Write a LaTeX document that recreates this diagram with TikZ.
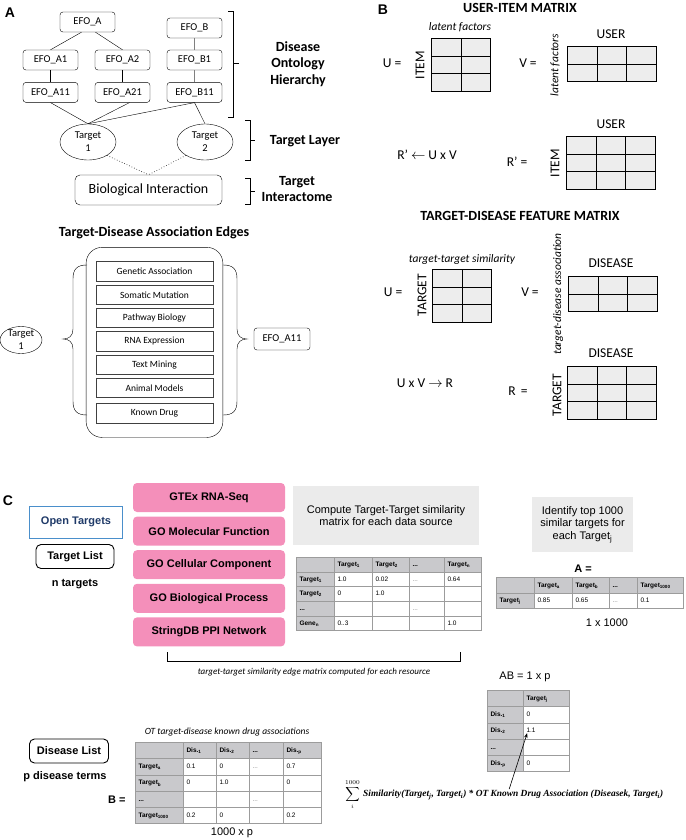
\documentclass[tikz,border=0pt]{standalone}
\usepackage{fontspec}
\setmainfont{Carlito}
\newfontfamily\arial{Liberation Sans}
\newfontfamily\timesf{Liberation Serif}
\usepackage{tikz}
\usetikzlibrary{positioning,shapes.geometric,matrix,fit,arrows.meta}

\newcommand{\fsz}[2]{\fontsize{#1}{#2}\selectfont}
\newcommand{\tsub}[1]{\textsubscript{#1}}

\definecolor{cellgray}{HTML}{EDEDED}
\definecolor{hdrgray}{HTML}{C9C9CC}
\definecolor{tblline}{HTML}{9C9C9C}
\definecolor{srcpink}{HTML}{F48FBA}
\definecolor{notegray}{HTML}{EBEBEB}
\definecolor{otblue}{HTML}{4A8FCB}
\definecolor{otnavy}{HTML}{1F3A68}

\tikzset{
  efo/.style={draw, rounded corners=3pt, minimum width=55pt, minimum height=20pt, inner sep=1pt, font=\fsz{10.5}{12}},
  target/.style={draw, ellipse, minimum width=56pt, minimum height=36pt, inner sep=0pt, align=center, font=\fsz{10.5}{13}},
  tag/.style={font=\bfseries\fsz{14}{16.5}, align=center},
  edgebox/.style={draw=black!75, line width=0.8pt, minimum width=117pt, minimum height=19.5pt, inner sep=0pt, font=\fsz{9.5}{10}},
  bmat/.style={matrix of nodes, nodes in empty cells, inner sep=0pt, column sep=-0.8pt, row sep=-0.8pt,
    nodes={draw, fill=cellgray, line width=0.8pt, minimum width=29.5pt, minimum height=17.5pt, inner sep=0pt}},
  blab/.style={font=\fsz{13.5}{15}},
  bnote/.style={font=\itshape\fsz{11.5}{13}},
  panel/.style={font=\arial\bfseries\fsz{14}{16}},
  src/.style={fill=srcpink, rounded corners=4pt, minimum width=152pt, minimum height=29pt, inner sep=0pt, font=\arial\bfseries\fsz{11}{13}},
  note/.style={fill=notegray, align=center, inner sep=0pt, font=\arial\fsz{11}{12.5}},
  listbox/.style={draw, line width=0.9pt, rounded corners=5pt, minimum height=24pt, inner sep=2pt, font=\arial\bfseries\fsz{11}{13}},
  ctext/.style={font=\arial\bfseries\fsz{11}{13}},
  cplain/.style={font=\arial\fsz{11}{13}},
  cnote/.style={font=\itshape\fsz{9}{10}},
  tcell/.style={draw=tblline, line width=0.7pt, fill=white, inner xsep=3pt, inner ysep=0pt, align=left,
    text height=5pt, text depth=1.5pt, font=\arial\fsz{6.5}{7}},
  hcell/.style={fill=hdrgray, font=\arial\bfseries\fsz{6.5}{7}},
  tbl/.style={matrix of nodes, nodes in empty cells, inner sep=0pt, column sep=-0.7pt, row sep=-0.7pt,
    nodes={tcell}, row 1/.style={nodes={hcell}}, column 1/.style={nodes={hcell}}},
}

\begin{document}
\begin{tikzpicture}[x=1pt,y=-1pt]
  \useasboundingbox (0,0) rectangle (685,840);

  % panel A: ontology, targets, interactome
  \node[panel] (labA) at (10,13) {A};
  \node[efo] (efoA) at (87.5,22) {EFO\_A};
  \node[efo] (efoB) at (194.5,28) {EFO\_B};
  \node[efo] (efoA1) at (50.5,60) {EFO\_A1};
  \node[efo] (efoA2) at (122.5,60) {EFO\_A2};
  \node[efo] (efoB1) at (194.5,60) {EFO\_B1};
  \node[efo, below=12pt of efoA1] (efoA11) {EFO\_A11};
  \node[efo, below=12pt of efoA2] (efoA21) {EFO\_A21};
  \node[efo, below=12pt of efoB1] (efoB11) {EFO\_B11};
  \node[target] (t1) at (88,142) {Target\\1};
  \node[target] (t2) at (205,142) {Target\\2};
  \node[efo, minimum width=147pt, minimum height=30pt, rounded corners=5pt, font=\fsz{14}{16}] (bio) at (148.5,190) {Biological Interaction};

  \path[draw]
    ([xshift=-6pt]efoA.south) edge (efoA1.north)
    ([xshift=8pt]efoA.south) edge (efoA2.north)
    (efoA1) edge (efoA11)
    (efoA2) edge (efoA21)
    (efoA11.south) edge (t1.north)
    ([xshift=7pt]efoA21.south) edge (t1.north)
    (efoB11.south) edge (t1.north)
    (efoB11.south) edge (t2.north);
  \path[draw=gray]
    (efoB) edge (efoB1)
    (efoB1) edge (efoB11);
  \path[draw=black!80, dotted, line width=0.7pt]
    (t1.-35) edge (bio.north)
    (t2.-145) edge (bio.north);

  \draw (228,11) -- (233,11) -- (233,117) -- (228,117) (233,63) -- (239,63);
  \draw (245,120) -- (250,120) -- (250,160) -- (245,160) (250,140) -- (255,140);
  \draw (245,178) -- (250,178) -- (250,204) -- (245,204) (250,191) -- (255,191);
  \node[tag] (ontoTag) at (298,64) {Disease\\Ontology\\Hierarchy};
  \node[tag] (layerTag) at (305,141) {Target Layer};
  \node[tag] (ictTag) at (297,189) {Target\\Interactome};

  % panel A: association edges
  \node[tag] (edgeTitle) at (154,233) {Target-Disease Association Edges};
  \node[edgebox] (genetic) at (154.5,271.5) {Genetic Association};
  \node[edgebox, below=3pt of genetic] (somatic) {Somatic Mutation};
  \node[edgebox, below=3pt of somatic] (pathway) {Pathway Biology};
  \node[edgebox, below=3pt of pathway] (rna) {RNA Expression};
  \node[edgebox, below=3pt of rna] (mining) {Text Mining};
  \node[edgebox, below=3pt of mining] (animal) {Animal Models};
  \node[edgebox, below=5pt of animal] (known) {Known Drug};
  \node[draw, rounded corners=16pt, fit=(genetic)(known), inner xsep=9.5pt, inner ysep=14pt] (edgeFrame) {};
  \draw (87,265) .. controls (77,265) and (73,269) .. (73,279) -- (73,329)
    .. controls (73,336) and (69,339) .. (63,339) .. controls (69,339) and (73,342) .. (73,349)
    -- (73,401) .. controls (73,411) and (77,415) .. (87,415);
  \draw (223,265) .. controls (233,265) and (237,269) .. (237,279) -- (237,329)
    .. controls (237,336) and (241,339) .. (247,339) .. controls (241,339) and (237,342) .. (237,349)
    -- (237,401) .. controls (237,411) and (233,415) .. (223,415);
  \node[target, minimum width=42pt, minimum height=27pt, inner xsep=1pt, inner ysep=-0.5pt] (t1b) at (21,340) {Target\\1};
  \node[efo, minimum width=56pt, minimum height=22pt] (efoA11b) at (282,339) {EFO\_A11};

  % panel B: user-item matrix
  \node[panel] (labB) at (383,10) {B};
  \node[tag] (uiTitle) at (520,8) {USER-ITEM MATRIX};
  \node[bnote] (latU) at (460,27) {latent factors};
  \matrix (U1) [bmat, anchor=north west] at (431,38) {& \\ & \\ & \\};
  \node[blab, rotate=90] (itemU) at (420,65) {ITEM};
  \node[blab] (eqU1) at (392,63) {U =};
  \node[blab] (eqV1) at (528,63) {V =};
  \node[bnote, rotate=90] (latV) at (555,65) {latent factors};
  \matrix (V1) [bmat, anchor=north west] at (567,46) {& & \\ & & \\};
  \node[blab] (userV) at (611,34) {USER};
  \node[blab] (ruleR1) at (427,155) {R’ $\leftarrow$ U x V};
  \node[blab] (eqR1) at (517,162) {R’ =};
  \node[blab, rotate=90] (itemR) at (555,163) {ITEM};
  \matrix (R1) [bmat, anchor=north west] at (566,136) {& & \\ & & \\ & & \\};
  \node[blab] (userR) at (611,124) {USER};

  % panel B: target-disease feature matrix
  \node[tag] (tdTitle) at (520,216) {TARGET-DISEASE FEATURE MATRIX};
  \node[bnote] (simU) at (462,259) {target-target similarity};
  \matrix (U2) [bmat, anchor=north west] at (432,269) {& \\ & \\ & \\};
  \node[blab, rotate=90] (tgtU) at (422,295) {TARGET};
  \node[blab] (eqU2) at (393,292) {U =};
  \node[blab] (eqV2) at (530,292) {V =};
  \node[bnote, rotate=90] (assocV) at (558,294) {target-disease association};
  \matrix (V2) [bmat, anchor=north west] at (568,276) {& & \\ & & \\};
  \node[blab] (disV) at (611,263) {DISEASE};
  \node[blab] (ruleR2) at (425,383) {U x V $\rightarrow$ R};
  \node[blab] (eqR2) at (518,391) {R \,=};
  \node[blab, rotate=90] (tgtR) at (557,395) {TARGET};
  \matrix (R2) [bmat, anchor=north west] at (567,366) {& & \\ & & \\ & & \\};
  \node[blab] (disR) at (611,353) {DISEASE};

  % panel C
  \node[panel] (labC) at (8,501) {C};
  \node[draw=otblue, line width=0.9pt, minimum width=93pt, minimum height=32pt, text=otnavy, ctext] (ot) at (76,522) {Open Targets};
  \node[listbox, minimum width=78pt] (tlist) at (75,556.5) {Target List};
  \node[ctext] (ntg) at (75,584) {n targets};

  \node[src] (gtex) at (209,497.5) {GTEx RNA-Seq};
  \node[src, below=4.2pt of gtex] (gomf) {GO Molecular Function};
  \node[src, below=4.2pt of gomf] (gocc) {GO Cellular Component};
  \node[src, below=4.2pt of gocc] (gobp) {GO Biological Process};
  \node[src, below=4.2pt of gobp] (string) {StringDB PPI Network};

  \node[note, minimum width=186pt, minimum height=59pt] (simNote) at (386,515.5) {Compute Target-Target similarity\\matrix for each data source};
  \matrix (tblSim) [tbl, anchor=north west, nodes={minimum height=14.6pt},
    column 1/.append style={nodes={text width=32pt}}, column 2/.style={nodes={text width=32pt}},
    column 3/.style={nodes={text width=31pt}}, column 4/.style={nodes={text width=29pt}},
    column 5/.style={nodes={text width=31pt}}] at (296,557) {
    & Target\tsub{1} & Target\tsub{2} & ... & Target\tsub{n} \\
    Target\tsub{1} & 1.0 & 0.02 & |[text=gray]| ... & 0.64 \\
    Target\tsub{2} & 0 & 1.0 & & \\
    ... & & & |[text=gray]| ... & \\
    Gene\tsub{n} & 0..3 & & & 1.0 \\
  };
  \draw (167,652) -- (167,661) -- (460,661) -- (460,652);
  \node[cnote] (edgeNote) at (314,672) {target-target similarity edge matrix computed for each resource};

  \node[note, minimum width=101pt, minimum height=55pt] (topNote) at (582.5,524.5) {Identify top 1000\\similar targets for\\each Target\tsub{j}};
  \node[ctext] (eqA) at (583,569) {A =};
  \matrix (tblA) [tbl, anchor=north west, nodes={minimum height=15.5pt},
    column 1/.append style={nodes={text width=32pt}}, column 2/.style={nodes={text width=32pt}},
    column 3/.style={nodes={text width=31pt}}, column 4/.style={nodes={text width=22pt}},
    column 5/.style={nodes={text width=40pt}}] at (496,577) {
    & Target\tsub{a} & Target\tsub{b} & ... & Target\tsub{1000} \\
    Target\tsub{j} & 0.85 & 0.65 & |[text=gray]| ... & 0.1 \\
  };
  \node[cplain] (dimA) at (607,623) {1 x 1000};

  \node[listbox, minimum width=79pt] (dlist) at (69,751) {Disease List};
  \node[ctext] (pdis) at (65,777) {p disease terms};
  \node[cnote, font=\itshape\fsz{9.5}{10}] (drugNote) at (227,732) {OT target-disease known drug associations};
  \matrix (tblB) [tbl, anchor=north west, nodes={minimum height=16.2pt},
    column 1/.append style={nodes={text width=42pt}}, column 2/.style={nodes={text width=27pt}},
    column 3/.style={nodes={text width=27pt}}, column 4/.style={nodes={text width=28pt}},
    column 5/.style={nodes={text width=32pt}}] at (135,742) {
    & Dis.\tsub{1} & Dis.\tsub{2} & ... & Dis.\tsub{p} \\
    Target\tsub{a} & 0.1 & 0 & |[text=gray]| ... & 0.7 \\
    Target\tsub{b} & 0 & 1.0 & & 0 \\
    ... & & & |[text=gray]| ... & \\
    Target\tsub{1000} & 0.2 & 0 & & 0.2 \\
  };
  \node[ctext, left=6pt of tblB-4-1] (eqB) {B =};
  \node[cplain] (dimB) at (232,833) {1000 x p};

  \node[cplain] (dimAB) at (525,677) {AB = 1 x p};
  \matrix (tblAB) [tbl, anchor=north west, nodes={minimum height=16.2pt},
    column 1/.append style={nodes={text width=30pt}}, column 2/.style={nodes={text width=40pt}}] at (487,690) {
    & Target\tsub{j} \\
    Dis.\tsub{1} & 0 \\
    Dis.\tsub{2} & 1.1 \\
    ... & \\
    Dis.\tsub{p} & 0 \\
  };
  \node[anchor=west, font=\timesf\bfseries\itshape\fsz{9.4}{10}, inner sep=1pt] (simText) at (362,795)
    {Similarity(Target\tsub{j}, Target\tsub{i}) * OT Known Drug Association (Diseasek, Target\tsub{i})};
  \node[left=2pt of simText, font=\fsz{9}{10}, inner sep=0pt] (sumSign) {$\displaystyle\sum_{i}^{1000}$};
  \draw[-{Stealth[length=5pt,width=3.5pt]}, line width=0.6pt] ([xshift=-4pt]simText.north) -- ([xshift=4pt,yshift=-2pt]tblAB-3-2.west);
\end{tikzpicture}
\end{document}
